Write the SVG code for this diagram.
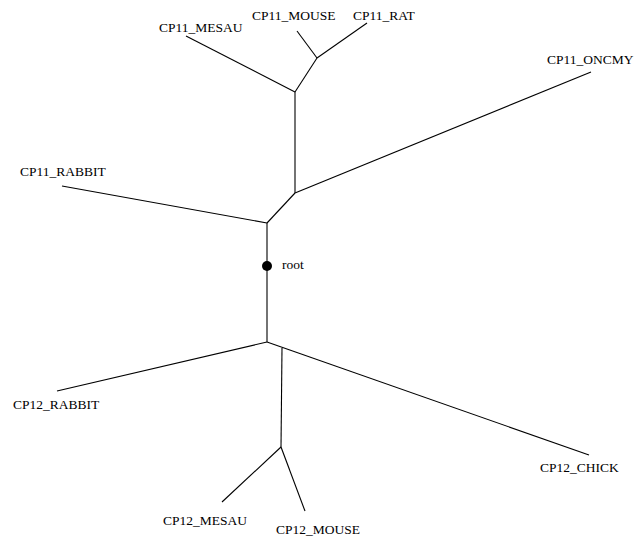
<svg xmlns="http://www.w3.org/2000/svg" width="642" height="537" viewBox="0 0 642 537">
<style>
text{font-family:"Liberation Serif","Times New Roman",serif;font-size:13.5px;fill:#000}
.e{stroke:#000;stroke-width:1.1;fill:none}
</style>
<rect width="642" height="537" fill="#fff"/>
<g id="connectors">
<line class="e" x1="267" y1="223" x2="267" y2="342"/>
<line class="e" x1="267" y1="223" x2="62" y2="186"/>
<line class="e" x1="267" y1="223" x2="295" y2="193"/>
<line class="e" x1="295" y1="193" x2="591" y2="72"/>
<line class="e" x1="295" y1="193" x2="295" y2="92"/>
<line class="e" x1="295" y1="92" x2="186" y2="36"/>
<line class="e" x1="295" y1="92" x2="317" y2="58"/>
<line class="e" x1="317" y1="58" x2="297" y2="31"/>
<line class="e" x1="317" y1="58" x2="367" y2="23"/>
<line class="e" x1="267" y1="342" x2="57" y2="391"/>
<line class="e" x1="267" y1="342" x2="589" y2="455"/>
<line class="e" x1="282" y1="348" x2="281" y2="447"/>
<line class="e" x1="281" y1="447" x2="222" y2="502"/>
<line class="e" x1="281" y1="447" x2="305" y2="511"/>
</g>
<g id="root"><circle cx="267" cy="266" r="5" fill="#000"/><text x="282" y="269">root</text></g>
<g id="CP11_MESAU"><text x="159" y="32">CP11_MESAU</text></g>
<g id="CP11_MOUSE"><text x="252" y="20">CP11_MOUSE</text></g>
<g id="CP11_RAT"><text x="353" y="20">CP11_RAT</text></g>
<g id="CP11_ONCMY"><text x="547" y="64">CP11_ONCMY</text></g>
<g id="CP11_RABBIT"><text x="20" y="176">CP11_RABBIT</text></g>
<g id="CP12_RABBIT"><text x="13" y="409">CP12_RABBIT</text></g>
<g id="CP12_CHICK"><text x="540" y="472">CP12_CHICK</text></g>
<g id="CP12_MESAU"><text x="163" y="525">CP12_MESAU</text></g>
<g id="CP12_MOUSE"><text x="276" y="534">CP12_MOUSE</text></g>
</svg>
